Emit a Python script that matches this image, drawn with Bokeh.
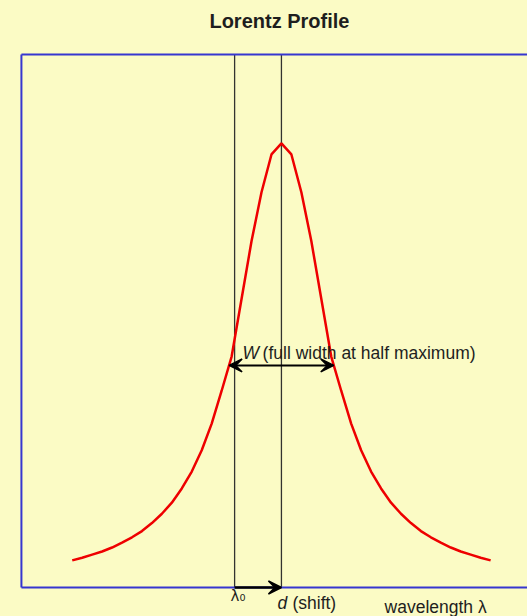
from bokeh.plotting import figure
from bokeh.models import Range1d, Label, Arrow, VeeHead, GlobalInlineStyleSheet
from bokeh.embed import file_html
from bokeh.resources import INLINE

# ---- data ----
wavelength = [1.02, 1.22, 1.42, 1.62, 1.82, 2.02, 2.22, 2.42, 2.62, 2.82,
              3.02, 3.22, 3.42, 3.62, 3.82, 4.02, 4.22, 4.42, 4.62, 4.82,
              5.02, 5.22, 5.42, 5.62, 5.82, 6.02, 6.22, 6.42, 6.62, 6.82,
              7.02, 7.22, 7.42, 7.62, 7.82, 8.02, 8.22, 8.42, 8.62, 8.82,
              9.02, 9.22, 9.42]
intensity = [0.061, 0.067, 0.074, 0.081, 0.090, 0.101, 0.113, 0.127, 0.145, 0.166,
             0.191, 0.223, 0.261, 0.309, 0.369, 0.443, 0.520, 0.650, 0.780, 0.890,
             0.975, 1.000, 0.975, 0.890, 0.780, 0.650, 0.520, 0.443, 0.369, 0.309,
             0.261, 0.223, 0.191, 0.166, 0.145, 0.127, 0.113, 0.101, 0.090, 0.081,
             0.074, 0.067, 0.061]
lambda0 = 4.28          # rest wavelength
peak_center = 5.22      # shifted line centre
fwhm = 2.10             # full width at half maximum
half_max = 0.5

# plot box (axes area) and visible window
box_x0, box_y0, box_y1 = 0.0, 0.0, 1.2
view_x = (-0.42, 10.16)
view_y = (-0.0653, 1.3216)

BG = "#FBFBC5"
BLUE = "#3636D0"
FONT = "Liberation Sans"
TXT = "#1e1e1e"

p = figure(width=527, height=616, x_range=Range1d(*view_x), y_range=Range1d(*view_y),
           x_axis_type=None, y_axis_type=None, output_backend="svg", toolbar_location=None,
           min_border=0, background_fill_color=BG, border_fill_color=BG, outline_line_color=None)
p.grid.visible = False
p.stylesheets = [GlobalInlineStyleSheet(css="html, body { background-color: #FBFBC5; }")]

# vertical marker lines
p.segment(x0=[lambda0, peak_center], y0=[box_y0, box_y0],
          x1=[lambda0, peak_center], y1=[box_y1, box_y1],
          line_color="#333330", line_width=1.3)

# profile
p.line(wavelength, intensity, line_color="#ee0000", line_width=2.5)

# plot box borders (left, top, bottom; right lies outside the window)
p.segment(x0=[box_x0, box_x0, box_x0], y0=[box_y0, box_y1, box_y0],
          x1=[box_x0, view_x[1], view_x[1]], y1=[box_y1, box_y1, box_y0],
          line_color=BLUE, line_width=2)

# W arrow
p.add_layout(Arrow(x_start=peak_center - fwhm / 2, y_start=half_max,
                   x_end=peak_center + fwhm / 2, y_end=half_max,
                   line_color="black", line_width=2,
                   start=VeeHead(size=13, fill_color="black", line_color="black", line_width=1.5),
                   end=VeeHead(size=13, fill_color="black", line_color="black", line_width=1.5)))
# d arrow
p.add_layout(Arrow(x_start=lambda0, y_start=box_y0, x_end=peak_center, y_end=box_y0,
                   line_color="black", line_width=2.5, start=None,
                   end=VeeHead(size=13, fill_color="black", line_color="black", line_width=1.5)))

def lab(x, y, text, xo, yo, size="17.5px", style="normal", font=FONT, align="left"):
    p.add_layout(Label(x=x, y=y, text=text, x_offset=xo, y_offset=yo,
                       text_font=font, text_font_size=size, text_font_style=style,
                       text_color=TXT, text_align=align, text_baseline="alphabetic"))

lab(peak_center, box_y1, "Lorentz Profile", -2, 34, size="20px", style="bold", align="center")
lab(lambda0, half_max, "W", 8, 12, style="italic")
lab(lambda0, half_max, "(full width at half maximum)", 28, 12)
lab(lambda0, box_y0, "λ₀", -4, -9, size="15px", font="DejaVu Sans")
lab(peak_center, box_y0, "d", -4, -16, style="italic")
lab(peak_center, box_y0, "(shift)", 11, -16)
lab(7.29, box_y0, "wavelength λ", 0, -20)

open("out.html", "w").write(file_html(p, INLINE))
